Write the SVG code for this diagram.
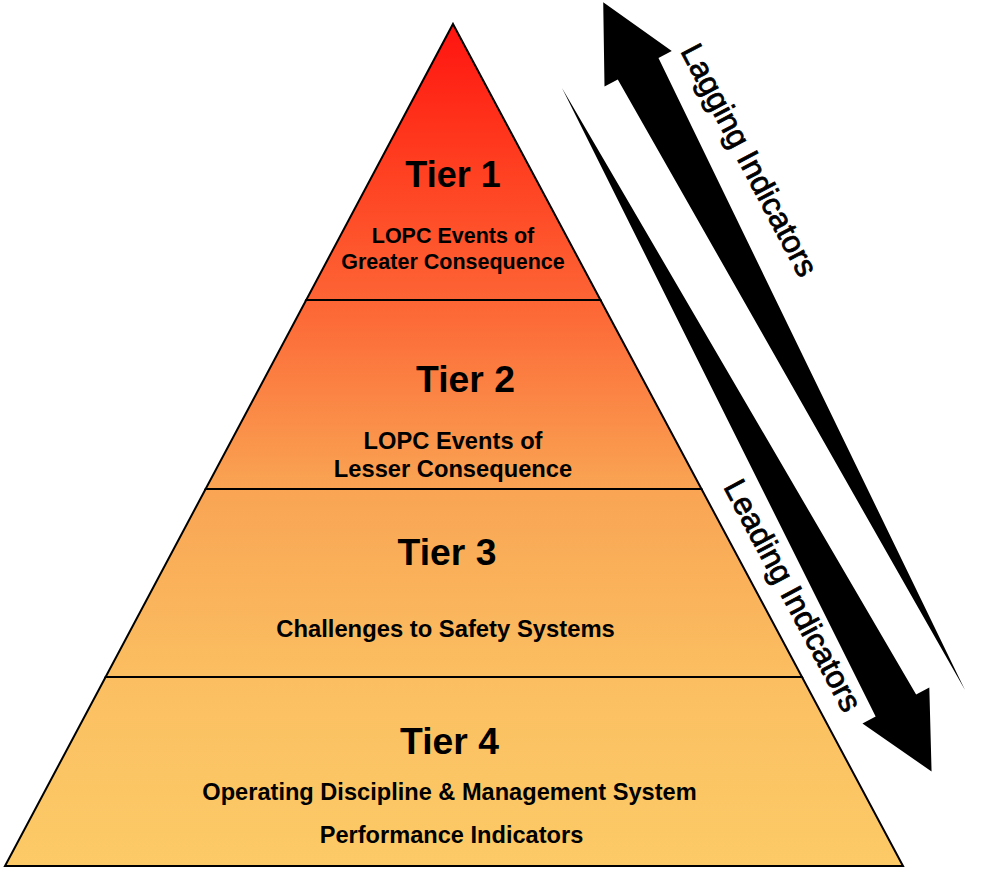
<svg xmlns="http://www.w3.org/2000/svg" width="984" height="871" viewBox="0 0 984 871">
  <defs>
    <linearGradient id="pyr" gradientUnits="userSpaceOnUse" x1="0" y1="24" x2="0" y2="866">
      <stop offset="0" stop-color="#FF1410"/>
      <stop offset="0.15" stop-color="#FF3A1E"/>
      <stop offset="0.33" stop-color="#FD6535"/>
      <stop offset="0.55" stop-color="#F9A453"/>
      <stop offset="0.78" stop-color="#FBBF61"/>
      <stop offset="1" stop-color="#FCCA67"/>
    </linearGradient>
  </defs>
  <style>
    .tier { fill: url(#pyr); stroke: #000; stroke-width: 2; stroke-linejoin: miter; }
    .title { font-family: "Liberation Sans", Arial, sans-serif; font-weight: bold; fill: #000; text-anchor: middle; }
    .sub { font-family: "Liberation Sans", Arial, sans-serif; font-weight: bold; fill: #000; text-anchor: middle; }
    .ind { font-family: "Liberation Sans", Arial, sans-serif; font-size: 31.5px; fill: #000; stroke: #000; stroke-width: 0.8; text-anchor: middle; }
    .arrow { fill: #000; }
  </style>
  <rect width="984" height="871" fill="#fff"/>

  <g id="tier1">
    <polygon class="tier" points="453,24 600.5,300 306.2,300"/>
    <text class="title" x="453" y="187" font-size="36">Tier 1</text>
    <text class="sub" x="453" y="243" font-size="21.5">LOPC Events of</text>
    <text class="sub" x="453" y="268.5" font-size="21.5">Greater Consequence</text>
  </g>
  <g id="tier2">
    <polygon class="tier" points="306.2,300 600.5,300 701.5,489 205.6,489"/>
    <text class="title" x="465.5" y="391.5" font-size="37.3">Tier 2</text>
    <text class="sub" x="453" y="448.5" font-size="23.7">LOPC Events of</text>
    <text class="sub" x="453" y="476.5" font-size="23.7">Lesser Consequence</text>
  </g>
  <g id="tier3">
    <polygon class="tier" points="205.6,489 701.5,489 802,677 105.6,677"/>
    <text class="title" x="447" y="565" font-size="37.3">Tier 3</text>
    <text class="sub" x="445.5" y="636.5" font-size="23.8">Challenges to Safety Systems</text>
  </g>
  <g id="tier4">
    <polygon class="tier" points="105.6,677 802,677 903,866 5,866"/>
    <text class="title" x="449.5" y="754" font-size="37.3">Tier 4</text>
    <text class="sub" x="449.5" y="800" font-size="23.6">Operating Discipline &amp; Management System</text>
    <text class="sub" x="451.5" y="843" font-size="23.6">Performance Indicators</text>
  </g>

  <g id="connectors">
    <g id="lagging">
      <path class="arrow" transform="translate(965,690) rotate(-117.75)" d="M0,0 L702,-23 L702,-38 L777,0 L702,38 L702,23 Z"/>
      <text class="ind" transform="translate(740,165) rotate(62.25)">Lagging Indicators</text>
    </g>
    <g id="leading">
      <path class="arrow" transform="translate(562,88) rotate(61.6)" d="M0,0 L702,-23 L702,-38 L777,0 L702,38 L702,23 Z"/>
      <text class="ind" transform="translate(783.5,600.5) rotate(62)">Leading Indicators</text>
    </g>
  </g>
</svg>
